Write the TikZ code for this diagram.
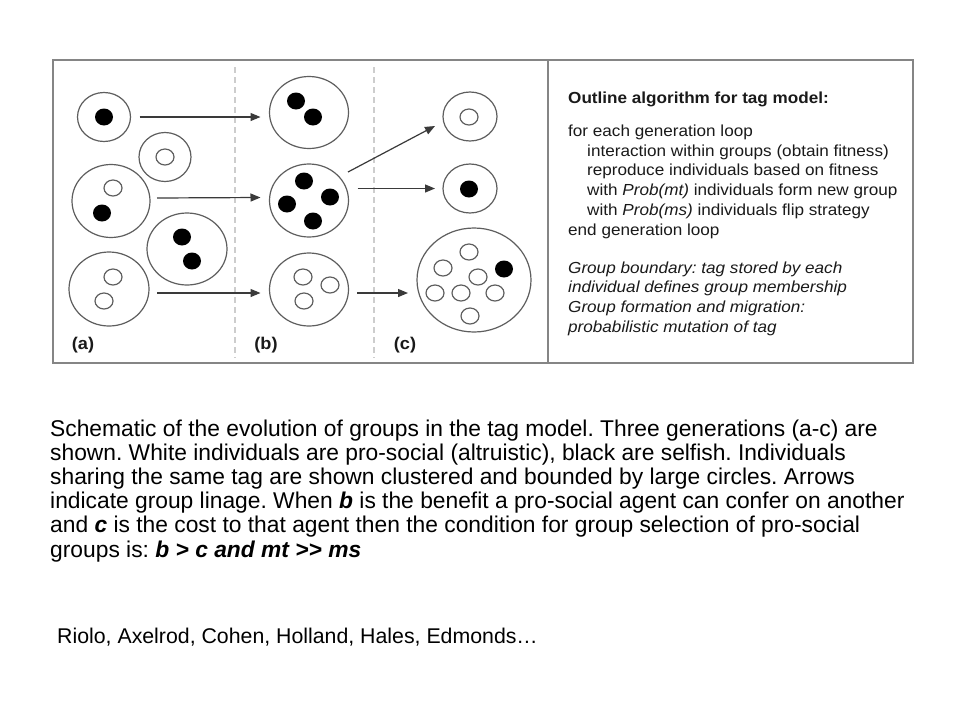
\documentclass[tikz,border=0pt]{standalone}
\usepackage{fontspec}
\setmainfont{Liberation Sans}
\newfontfamily\figfont[FakeStretch=1.07]{Liberation Sans}
\usetikzlibrary{arrows.meta,shapes.geometric}
\definecolor{circ}{HTML}{5E5E5E}
\definecolor{arrc}{HTML}{3A3A3A}
\definecolor{frame}{HTML}{858585}
\definecolor{dashc}{HTML}{CDCDCD}
\definecolor{figtext}{HTML}{1A1A1A}
\frenchspacing
\begin{document}
\begin{tikzpicture}[x=1pt,y=-1pt,
  grp/.style={ellipse, draw=circ, line width=1.2pt, inner sep=0pt, outer sep=0pt},
  sel/.style={ellipse, fill=black, minimum width=18pt, minimum height=17pt, inner sep=0pt},
  alt/.style={ellipse, draw=circ, line width=1.2pt, fill=white, minimum width=18pt, minimum height=16pt, inner sep=0pt},
  arr/.style={draw=arrc, line width=1.2pt, -{Triangle[length=10pt,width=8pt]}},
  frm/.style={draw=frame, line width=2pt},
  dsh/.style={draw=dashc, line width=1.2pt, dash pattern=on 6pt off 4pt},
  lab/.style={font=\figfont\fontsize{17}{20}\selectfont\bfseries, text=figtext, inner sep=0pt, anchor=base},
  ftx/.style={font=\figfont\fontsize{16}{20}\selectfont, text=figtext, anchor=base west, inner sep=0pt},
  captxt/.style={font=\fontsize{22.8}{24}\selectfont, text=black, anchor=base west, inner sep=0pt}]
\useasboundingbox (0,0) rectangle (960,720);
\fill[white] (0,0) rectangle (960,720);

% frame
\draw[frm] (53,60) rectangle (913,363);
\draw[frm] (548,60) -- (548,363);
\draw[dsh] (235,67) -- (235,358);
\draw[dsh] (374,67) -- (374,358);

% column (a)
\node[grp, minimum width=53pt, minimum height=49pt] (a1) at (104,117) {};
\node[sel] (a1s1) at (104,117) {};
\node[grp, minimum width=52pt, minimum height=49pt] (a2) at (165,157) {};
\node[alt] (a2w1) at (165,157) {};
\node[grp, minimum width=78pt, minimum height=73pt] (a3) at (111,201) {};
\node[alt] (a3w1) at (113,188) {};
\node[sel] (a3s1) at (102,213) {};
\node[grp, minimum width=80pt, minimum height=72pt] (a4) at (187,249) {};
\node[sel] (a4s1) at (182,237) {};
\node[sel] (a4s2) at (192,261) {};
\node[grp, minimum width=80pt, minimum height=74pt] (a5) at (109,289) {};
\node[alt] (a5w1) at (113,277) {};
\node[alt] (a5w2) at (104,301) {};
\node[lab] (la) at (83,349) {(a)};

% column (b)
\node[grp, minimum width=79pt, minimum height=72pt] (b1) at (309,112.5) {};
\node[sel] (b1s1) at (296,101) {};
\node[sel] (b1s2) at (313,117) {};
\node[grp, minimum width=79pt, minimum height=73pt] (b2) at (309,200.5) {};
\node[sel] (b2s1) at (304,181) {};
\node[sel] (b2s2) at (330,197) {};
\node[sel] (b2s3) at (287,204) {};
\node[sel] (b2s4) at (313,221) {};
\node[grp, minimum width=79pt, minimum height=73pt] (b3) at (309,289.5) {};
\node[alt] (b3w1) at (303,277) {};
\node[alt] (b3w2) at (330,285) {};
\node[alt] (b3w3) at (304,301) {};
\node[lab] (lb) at (266,349) {(b)};

% column (c)
\node[grp, minimum width=54pt, minimum height=49pt] (c1) at (470,116.5) {};
\node[alt] (c1w1) at (469,117) {};
\node[grp, minimum width=54pt, minimum height=49pt] (c2) at (470,188.5) {};
\node[sel] (c2s1) at (469,189) {};
\node[grp, minimum width=114pt, minimum height=104pt] (c3) at (474,280) {};
\node[alt] (c3w1) at (469,252) {};
\node[alt] (c3w2) at (443,268) {};
\node[alt] (c3w3) at (478,277) {};
\node[alt] (c3w4) at (435,293) {};
\node[alt] (c3w5) at (461,293) {};
\node[alt] (c3w6) at (495,293) {};
\node[alt] (c3w7) at (470,316) {};
\node[sel] (c3s1) at (504,269) {};
\node[lab] (lc) at (405,349) {(c)};

% arrows
\draw[arr] ([xshift=9pt]a1.east) -- ([xshift=-9pt]a1.east -| b1.west);
\draw[arr] ([shift={(7,-3)}]a3.east) -- ([shift={(-9,-3)}]b2.west);
\draw[arr] ([shift={(8,4)}]a5.east) -- ([shift={(-9,3.5)}]b3.west);
\draw[arr] ([shift={(39,-28.5)}]b2.center) -- ([shift={(-35,9.5)}]c1.center);
\draw[arr] ([xshift=9pt]b2.east |- c2.west) -- ([xshift=-8pt]c2.west);
\draw[arr] ([shift={(8.5,3.5)}]b3.east) -- ([shift={(-9,13)}]c3.west);

% algorithm text
\node[ftx, font=\figfont\fontsize{16}{20}\selectfont\bfseries] (t0) at (568,103) {Outline algorithm for tag model:};
\node[ftx] (t1) at (568,136) {for each generation loop};
\node[ftx] (t2) at (587,156) {interaction within groups (obtain fitness)};
\node[ftx] (t3) at (587,175.5) {reproduce individuals based on fitness};
\node[ftx] (t4) at (587,195) {with \textit{Prob(mt)} individuals form new group};
\node[ftx] (t5) at (587,215) {with \textit{Prob(ms)} individuals flip strategy};
\node[ftx] (t6) at (568,235) {end generation loop};
\node[ftx] (t7) at (568,273) {\itshape Group boundary: tag stored by each};
\node[ftx] (t8) at (568,292.5) {\itshape individual defines group membership};
\node[ftx] (t9) at (568,312) {\itshape Group formation and migration:};
\node[ftx] (t10) at (568,332) {\itshape probabilistic mutation of tag};

% caption
\node[captxt] (cap1) at (50,436) {Schematic of the evolution of groups in the tag model. Three generations (a-c) are};
\node[captxt] (cap2) at (50,460.2) {shown. White individuals are pro-social (altruistic), black are selfish. Individuals};
\node[captxt] (cap3) at (50,484.4) {sharing the same tag are shown clustered and bounded by large circles. Arrows};
\node[captxt] (cap4) at (50,508.6) {indicate group linage. When \textbf{\textit{b}} is the benefit a pro-social agent can confer on another};
\node[captxt] (cap5) at (50,532.8) {and \textbf{\textit{c}} is the cost to that agent then the condition for group selection of pro-social};
\node[captxt] (cap6) at (50,557) {groups is: \textbf{\textit{b > c and mt >{}>{} ms}}};
\node[captxt, font=\fontsize{21.3}{24}\selectfont] (refs) at (57,643) {Riolo, Axelrod, Cohen, Holland, Hales, Edmonds…};
\end{tikzpicture}
\end{document}
